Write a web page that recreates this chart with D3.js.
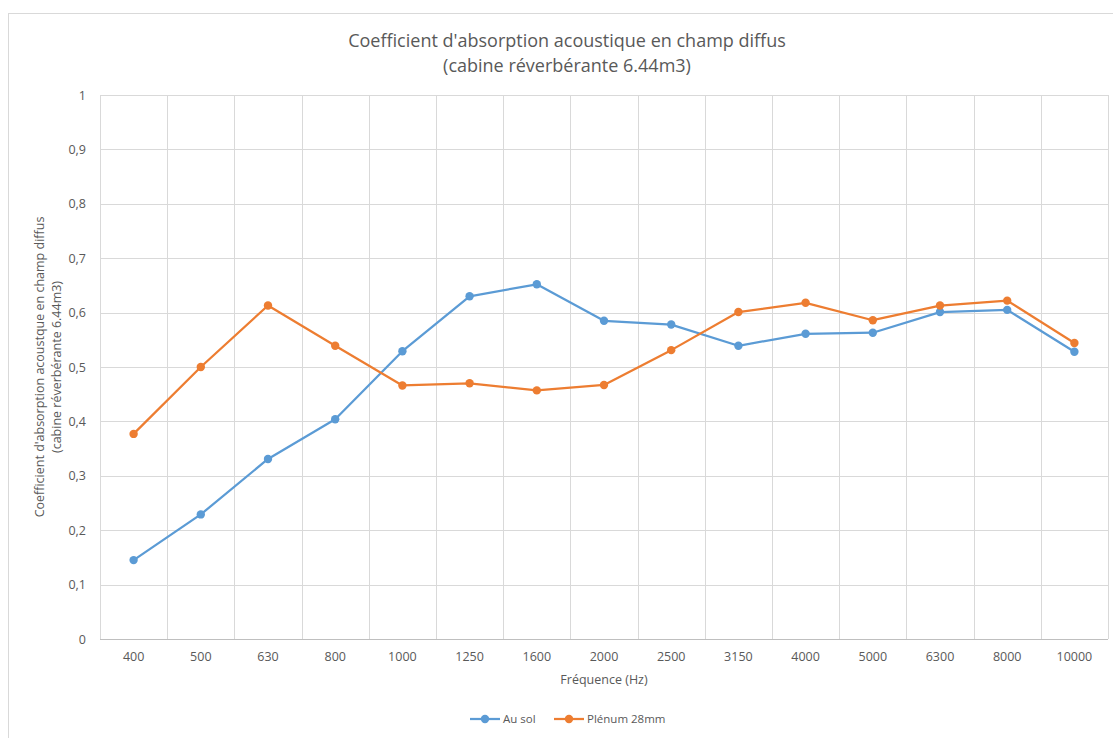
<!DOCTYPE html>
<html><head><meta charset="utf-8">
<script src="https://cdn.jsdelivr.net/npm/d3@7"></script>
<style>body{margin:0;background:#fff}svg{display:block}text{font-family:"Open Sans",sans-serif;fill:#595959}</style>
</head><body>
<svg id="c" width="1113" height="738"></svg>
<script>
const categories = ["400","500","630","800","1000","1250","1600","2000","2500","3150","4000","5000","6300","8000","10000"];
const auSol = [0.145,0.229,0.331,0.404,0.529,0.630,0.652,0.585,0.578,0.539,0.561,0.563,0.601,0.605,0.528];
const plenum = [0.377,0.500,0.613,0.539,0.466,0.470,0.457,0.467,0.531,0.601,0.618,0.586,0.613,0.622,0.544];
const yTicks = [0,0.1,0.2,0.3,0.4,0.5,0.6,0.7,0.8,0.9,1];
const seriesNames = ["Au sol","Plénum 28mm"];
const colors = ["#5B9BD5","#ED7D31"];

const svg = d3.select("#c");
svg.append("rect").attr("x",8.5).attr("y",13.5).attr("width",1120).attr("height",740)
  .attr("fill","none").attr("stroke","#D9D9D9");

const L=100,R=1108,T=95,B=639;
const x = d3.scaleBand().domain(categories).range([L,R]);
const y = d3.scaleLinear().domain([0,1]).range([B,T]);

// gridlines
svg.append("g").selectAll("line").data(yTicks.filter(d=>d>0)).join("line")
  .attr("x1",L).attr("x2",R).attr("y1",d=>Math.round(y(d))+0.5).attr("y2",d=>Math.round(y(d))+0.5)
  .attr("stroke","#D9D9D9").attr("stroke-width",1);
const vb = categories.map(c=>x(c)).concat([R]);
svg.append("g").selectAll("line").data(vb).join("line")
  .attr("x1",d=>Math.round(d)+0.5).attr("x2",d=>Math.round(d)+0.5).attr("y1",T).attr("y2",B)
  .attr("stroke","#D9D9D9");

// axes
const xAxis = svg.append("g").attr("transform",`translate(0,${B+0.5})`)
  .call(d3.axisBottom(x).tickSize(0).tickPadding(13));
xAxis.select(".domain").attr("stroke","#BFBFBF").attr("d",`M${L},0H${R}`);
xAxis.selectAll("text").attr("font-size",12.5).attr("fill","#595959").attr("font-family","Open Sans");

const yAxis = svg.append("g").attr("transform",`translate(${L},0)`)
  .call(d3.axisLeft(y).tickValues(yTicks).tickSize(0).tickPadding(14).tickFormat(d=>String(d).replace(".",",")));
yAxis.select(".domain").remove();
yAxis.selectAll("text").attr("font-size",12.5).attr("fill","#595959").attr("font-family","Open Sans");

// lines
const line = d3.line().x((d,i)=>x(categories[i])+x.bandwidth()/2).y(d=>y(d));
[auSol,plenum].forEach((s,k)=>{
  svg.append("path").datum(s).attr("d",line).attr("fill","none").attr("stroke",colors[k]).attr("stroke-width",2.25).attr("stroke-linejoin","round");
  svg.append("g").selectAll("circle").data(s).join("circle")
    .attr("cx",(d,i)=>x(categories[i])+x.bandwidth()/2).attr("cy",d=>y(d)).attr("r",4.2).attr("fill",colors[k]);
});

// titles
svg.append("text").attr("x",567).attr("y",47).attr("text-anchor","middle").attr("font-size",18).text("Coefficient d'absorption acoustique en champ diffus");
svg.append("text").attr("x",567).attr("y",72).attr("text-anchor","middle").attr("font-size",18).text("(cabine réverbérante 6.44m3)");
svg.append("text").attr("x",(L+R)/2).attr("y",684).attr("text-anchor","middle").attr("font-size",12.5).text("Fréquence (Hz)");
const yl = svg.append("g").attr("transform",`translate(0,${(T+B)/2}) rotate(-90)`);
yl.append("text").attr("x",0).attr("y",44).attr("text-anchor","middle").attr("font-size",12.5).text("Coefficient d'absorption acoustque en champ diffus");
yl.append("text").attr("x",0).attr("y",61).attr("text-anchor","middle").attr("font-size",12.5).text("(cabine réverbérante 6.44m3)");

// legend
const lx=[470,554];
seriesNames.forEach((n,k)=>{
  const g=svg.append("g");
  g.append("line").attr("x1",lx[k]).attr("x2",lx[k]+30).attr("y1",719).attr("y2",719).attr("stroke",colors[k]).attr("stroke-width",2.25);
  g.append("circle").attr("cx",lx[k]+15).attr("cy",719).attr("r",4.2).attr("fill",colors[k]);
  g.append("text").attr("x",lx[k]+33).attr("y",723).attr("font-size",11.5).text(n);
});
</script>
</body></html>
